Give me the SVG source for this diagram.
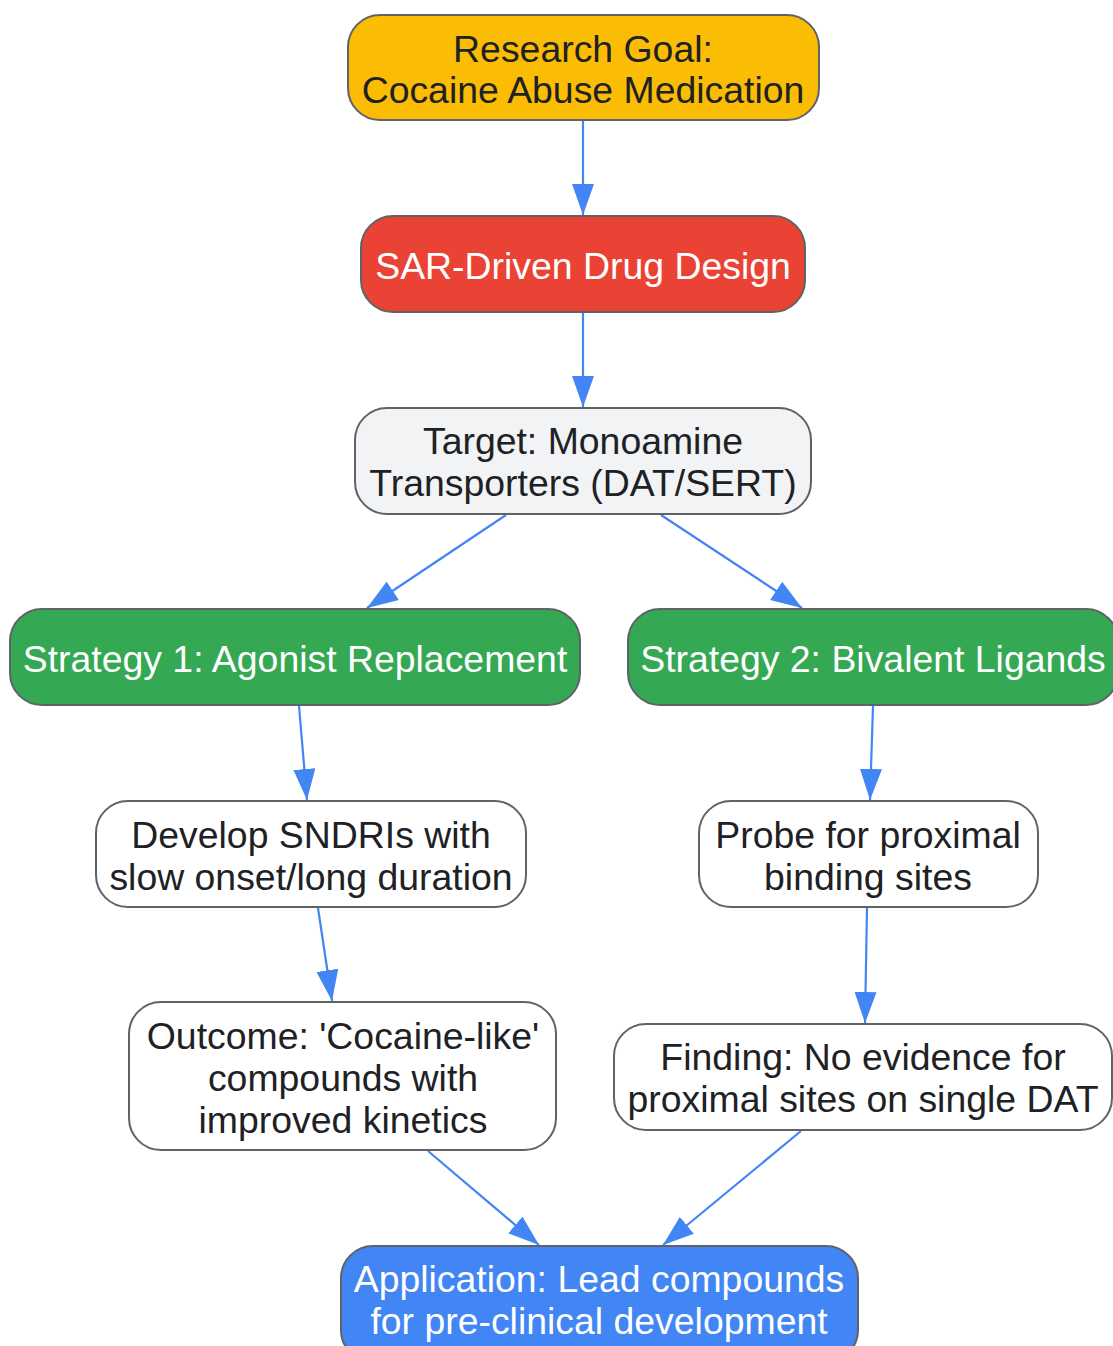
<svg xmlns="http://www.w3.org/2000/svg" width="1113" height="1346" viewBox="0 0 1113 1346">
<style>
.n{stroke:#5f6368;stroke-width:2}
.t{font-family:"Liberation Sans",Arial,sans-serif;font-size:37.4px;text-anchor:middle}
.d{fill:#202124}
.w{fill:#ffffff}
.e{stroke:#4285F4;stroke-width:2.2;fill:none}
</style>
<defs>
<marker id="ah" viewBox="0 -11 31 22" refX="31" refY="0" markerWidth="31" markerHeight="22" markerUnits="userSpaceOnUse" orient="auto">
<path d="M0,-11 L31,0 L0,11 z" fill="#4285F4"/>
</marker>
</defs>
<rect width="1113" height="1346" fill="#ffffff"/>
<g id="edges">
<line class="e" x1="583" y1="121" x2="583" y2="215" marker-end="url(#ah)"/>
<line class="e" x1="583" y1="313" x2="583" y2="407" marker-end="url(#ah)"/>
<line class="e" x1="506" y1="515" x2="367" y2="608" marker-end="url(#ah)"/>
<line class="e" x1="661" y1="515" x2="802" y2="608" marker-end="url(#ah)"/>
<line class="e" x1="299" y1="706" x2="307" y2="800" marker-end="url(#ah)"/>
<line class="e" x1="873" y1="706" x2="870" y2="800" marker-end="url(#ah)"/>
<line class="e" x1="318" y1="908" x2="332" y2="1001" marker-end="url(#ah)"/>
<line class="e" x1="867" y1="908" x2="865" y2="1023" marker-end="url(#ah)"/>
<line class="e" x1="428" y1="1151" x2="539" y2="1245" marker-end="url(#ah)"/>
<line class="e" x1="801" y1="1131" x2="663" y2="1245" marker-end="url(#ah)"/>
</g>
<g id="goal">
<rect class="n" x="348" y="15" width="471" height="105" rx="32" fill="#FBBC04"/>
<text class="t d" x="583" y="62">Research Goal:</text>
<text class="t d" x="583" y="103">Cocaine Abuse Medication</text>
</g>
<g id="sar">
<rect class="n" x="361" y="216" width="444" height="96" rx="32" fill="#EA4335"/>
<text class="t w" x="583" y="279">SAR-Driven Drug Design</text>
</g>
<g id="target">
<rect class="n" x="355" y="408" width="456" height="106" rx="32" fill="#F1F3F4"/>
<text class="t d" x="583" y="454">Target: Monoamine</text>
<text class="t d" x="583" y="496">Transporters (DAT/SERT)</text>
</g>
<g id="strategy1">
<rect class="n" x="10" y="609" width="570" height="96" rx="32" fill="#34A853"/>
<text class="t w" x="295" y="672">Strategy 1: Agonist Replacement</text>
</g>
<g id="strategy2">
<rect class="n" x="628" y="609" width="490" height="96" rx="32" fill="#34A853"/>
<text class="t w" x="873" y="672">Strategy 2: Bivalent Ligands</text>
</g>
<g id="develop">
<rect class="n" x="96" y="801" width="430" height="106" rx="32" fill="#ffffff"/>
<text class="t d" x="311" y="848">Develop SNDRIs with</text>
<text class="t d" x="311" y="890">slow onset/long duration</text>
</g>
<g id="probe">
<rect class="n" x="699" y="801" width="339" height="106" rx="32" fill="#ffffff"/>
<text class="t d" x="868" y="848">Probe for proximal</text>
<text class="t d" x="868" y="890">binding sites</text>
</g>
<g id="outcome">
<rect class="n" x="129" y="1002" width="427" height="148" rx="32" fill="#ffffff"/>
<text class="t d" x="343" y="1049">Outcome: 'Cocaine-like'</text>
<text class="t d" x="343" y="1091">compounds with</text>
<text class="t d" x="343" y="1133">improved kinetics</text>
</g>
<g id="finding">
<rect class="n" x="614" y="1024" width="498" height="106" rx="32" fill="#ffffff"/>
<text class="t d" x="863" y="1070">Finding: No evidence for</text>
<text class="t d" x="863" y="1112">proximal sites on single DAT</text>
</g>
<g id="application">
<rect class="n" x="341" y="1246" width="517" height="116" rx="32" fill="#4285F4"/>
<text class="t w" x="599" y="1292">Application: Lead compounds</text>
<text class="t w" x="599" y="1334">for pre-clinical development</text>
</g>
</svg>
